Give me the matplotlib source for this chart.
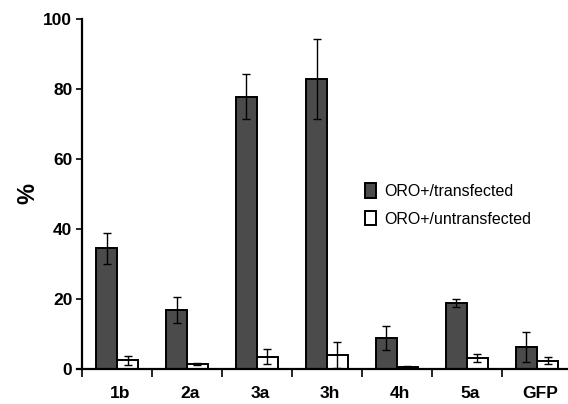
import numpy as np
import matplotlib
matplotlib.use('Agg')
import matplotlib.pyplot as plt

# Data
categories = ['1b', '2a', '3a', '3h', '4h', '5a', 'GFP']
transfected = [34.5, 16.9, 77.8, 82.8, 8.9, 18.9, 6.4]
transfected_err = [4.4, 3.7, 6.4, 11.5, 3.4, 1.2, 4.3]
untransfected = [2.5, 1.4, 3.5, 4.0, 0.7, 3.1, 2.4]
untransfected_err = [1.3, 0.3, 2.2, 3.7, 0.2, 1.2, 1.1]
labels = ['ORO+/transfected', 'ORO+/untransfected']

bold_font = ['Liberation Sans Narrow', 'Liberation Sans', 'DejaVu Sans']
plt.rcParams['font.family'] = ['Liberation Sans', 'DejaVu Sans']

fig = plt.figure(figsize=(5.68, 4.04), dpi=100)
ax = fig.add_axes([82 / 568, 35 / 404, 486 / 568, 350 / 404])

centers = np.arange(len(categories)) + 0.5
w = 0.3
ax.bar(centers, transfected, width=-w, align='edge', color='#4b4b4b',
       edgecolor='black', linewidth=1.4, label=labels[0], zorder=2)
ax.bar(centers, untransfected, width=w, align='edge', color='white',
       edgecolor='black', linewidth=1.4, label=labels[1], zorder=2)
ax.errorbar(centers - w / 2, transfected, yerr=transfected_err, fmt='none',
            ecolor='black', elinewidth=1.0, capsize=3.2, capthick=1.0, zorder=3)
ax.errorbar(centers + w / 2, untransfected, yerr=untransfected_err, fmt='none',
            ecolor='black', elinewidth=1.0, capsize=3.2, capthick=1.0, zorder=3)

ax.set_xlim(0, 486 / 70)
ax.set_ylim(0, 100)
ax.set_yticks(np.arange(0, 101, 20))
ax.set_xticks(np.arange(0, 7))
ax.set_xticklabels([])
ax.set_xticks(centers + 0.04, minor=True)
ax.set_xticklabels(categories, minor=True)
ax.tick_params(axis='x', which='major', direction='out', length=6, width=1.2)
ax.tick_params(axis='x', which='minor', length=0, pad=12)
ax.tick_params(axis='y', direction='out', length=4, width=1.2, pad=3)
for lab in ax.get_xticklabels(minor=True) + ax.get_yticklabels():
    lab.set_family(bold_font)
    lab.set_fontweight('bold')
    lab.set_fontsize(12.5)

for s in ['top', 'right']:
    ax.spines[s].set_visible(False)
for s in ['left', 'bottom']:
    ax.spines[s].set_linewidth(1.6)
ax.spines['bottom'].set_bounds(-0.07, 486 / 70)

ax.set_ylabel('%', fontsize=17, fontweight='bold', labelpad=3, family=bold_font)

leg = ax.legend(loc='center left', bbox_to_anchor=(365 / 568, 1 - 205 / 404),
                bbox_transform=fig.transFigure, frameon=False, fontsize=11.5,
                handlelength=0.7, handleheight=1.0, handletextpad=0.5,
                labelspacing=0.75, borderpad=0, borderaxespad=0)

fig.savefig('out.png', dpi=100)
